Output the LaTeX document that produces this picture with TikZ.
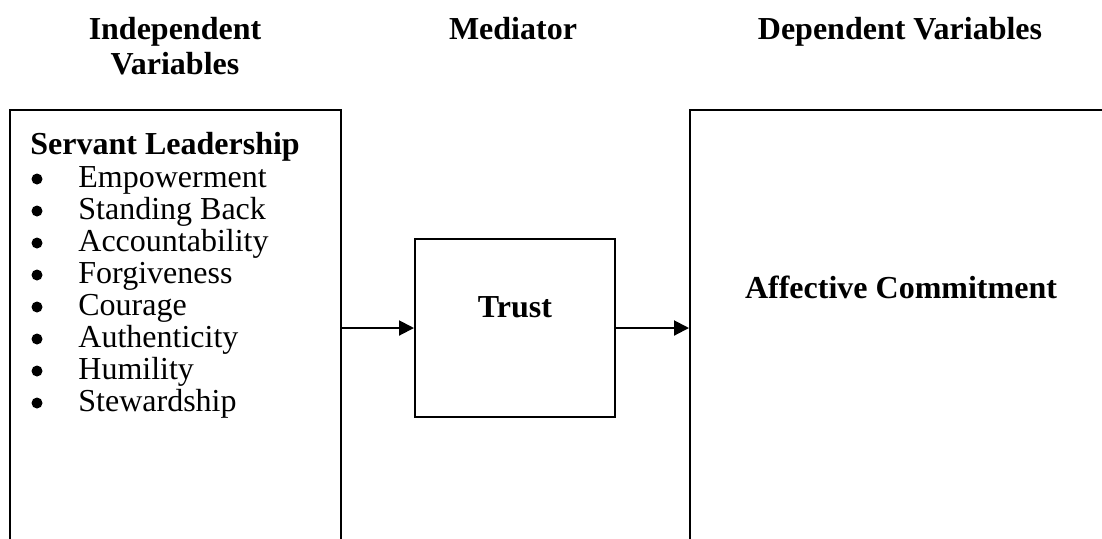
\documentclass[tikz,border=0pt]{standalone}
\usepackage{fontspec}
\setmainfont{Liberation Serif}
\usetikzlibrary{arrows.meta}

\tikzset{
  box/.style={draw,line width=1pt,rectangle,inner sep=0pt,anchor=north west},
  heading/.style={font=\fontsize{16pt}{17.5pt}\selectfont\bfseries,anchor=base,align=center,inner sep=0pt},
  trait/.style={font=\fontsize{16pt}{16pt}\selectfont,anchor=base west,inner sep=0pt},
  dot/.style={circle,fill,inner sep=0pt,minimum size=5.5pt},
  arr/.style={-{Triangle[length=7.5pt,width=7.5pt]},line width=1pt}
}

\begin{document}
\begin{tikzpicture}[x=0.5pt,y=-0.5pt]
    \useasboundingbox (0,0) rectangle (1102,538);
    \clip (0,0) rectangle (1102,538);

    % column headings
    \node[heading] (indep) at (175,74) {Independent\\Variables};
    \node[heading] (medi) at (513,39) {Mediator};
    \node[heading] (dep) at (900,39) {Dependent Variables};

    % boxes
    \node[box,minimum width=165.5pt,minimum height=250pt] (iv) at (9,109) {};
    \node[box,minimum width=100pt,minimum height=89pt] (trust) at (414,238) {};
    \node[box,minimum width=250pt,minimum height=250pt] (dv) at (689,109) {};

    \node[heading,anchor=base west] (sl) at (30,154) {Servant Leadership};
    \foreach \trait [count=\i] in {Empowerment,Standing Back,Accountability,Forgiveness,Courage,Authenticity,Humility,Stewardship}{
        \node[dot] (b\i) at (37,{179+32*(\i-1)}) {};
        \node[trait] (t\i) at (78,{187+32*(\i-1)}) {\trait};
    }

    \node[heading] (trusttxt) at (515,317) {Trust};
    \node[heading] (ac) at (901,298) {Affective Commitment};

    % arrows
    \draw[arr] (iv.east |- trust.west) -- (trust.west);
    \draw[arr] (trust.east) -- (dv.west |- trust.east);
\end{tikzpicture}
\end{document}
